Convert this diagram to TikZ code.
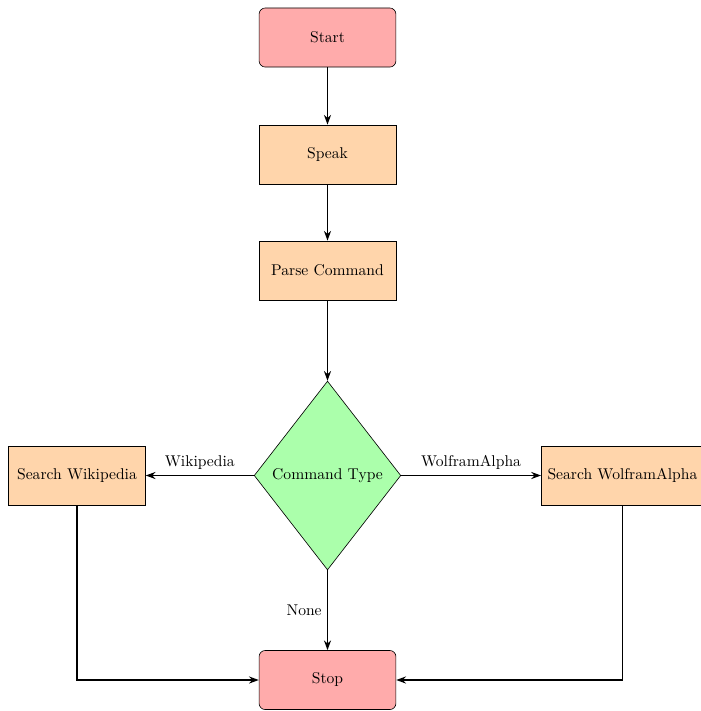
\documentclass[tikz,border=0pt]{standalone}
\usetikzlibrary{shapes.geometric,arrows.meta}

\tikzset{
	startstop/.style={rectangle, rounded corners, minimum width=3.08cm, minimum height=1.33cm, text centered, draw=black, fill=red!33},
	process/.style={rectangle, minimum width=3.08cm, minimum height=1.33cm, text centered, draw=black, fill=orange!33},
	decision/.style={diamond, aspect=0.78, minimum width=3.3cm, minimum height=4.25cm, inner sep=0pt, text centered, draw=black, fill=green!33},
	arrow/.style={thick, -{Stealth[length=2.2mm, width=1.6mm]}}
}

\begin{document}
\begin{tikzpicture}[x=0.0225cm, y=-0.0225cm]
		\useasboundingbox (0, 0) rectangle (701, 711);
		\node (start) [startstop] at (327.5, 37.5) {Start};
		\node (speak) [process] at (327.5, 154.5) {Speak};
		\node (parse) [process] at (327.5, 270.5) {Parse Command};
		\node (cmd) [decision] at (327.5, 475.5) {Command Type};
		\node (wiki) [process] at (77, 475.5) {Search Wikipedia};
		\node (wolfram) [process, anchor=west, inner xsep=0.4em] at (541, 475.5) {Search WolframAlpha};
		\node (stop) [startstop] at (327.5, 680) {Stop};
		\coordinate (wikicorner) at (wiki.south |- stop.west);
		\coordinate (wolfcorner) at (wolfram.south |- stop.east);

		\draw[arrow] (start) -- (speak);
		\draw[arrow] (speak) -- (parse);
		\draw[arrow] (parse) -- (cmd);
		\draw[arrow] (cmd) -- node[anchor=south] {Wikipedia} (wiki);
		\draw[arrow] (cmd) -- node[anchor=south] {WolframAlpha} (wolfram);
		\draw[arrow] (cmd) -- node[anchor=east] {None} (stop);
		\draw[arrow] (wiki) -- (wikicorner) -- (stop);
		\draw[arrow] (wolfram.south) -- (wolfcorner) -- (stop);
	\end{tikzpicture}
\end{document}
